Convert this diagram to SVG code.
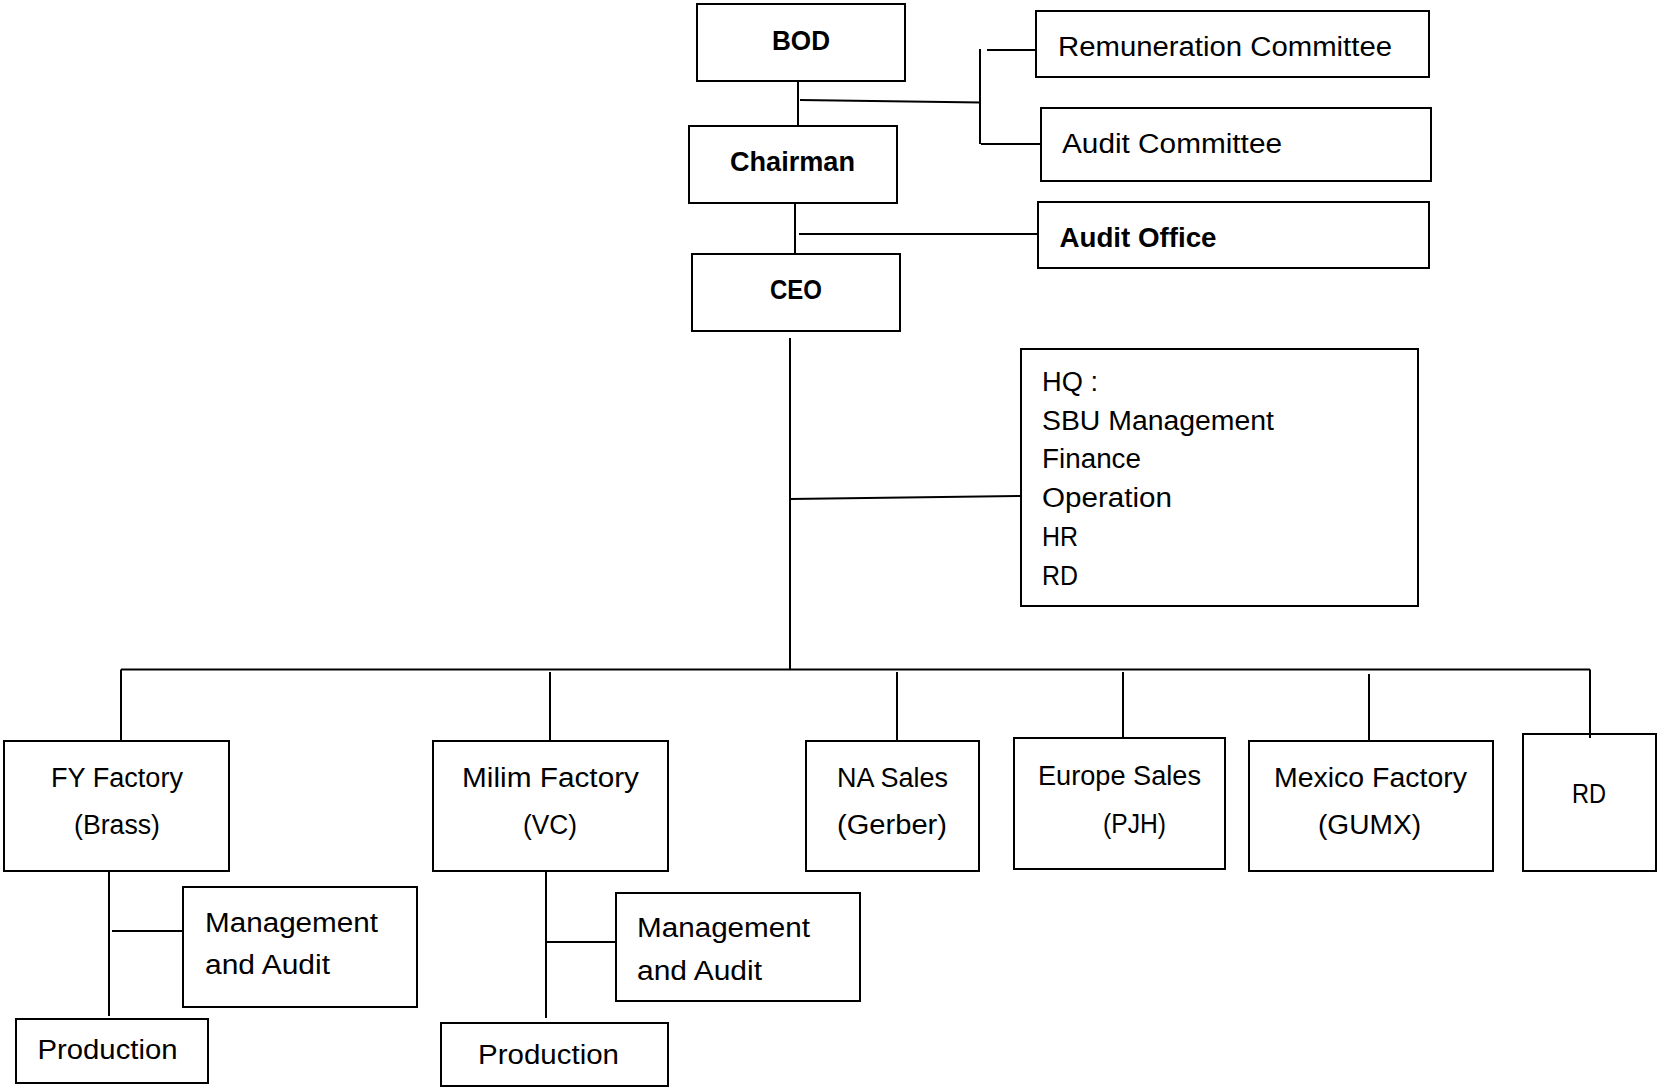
<svg xmlns="http://www.w3.org/2000/svg" width="1657" height="1087" viewBox="0 0 1657 1087">
<style>
.box{fill:#fff;stroke:#000;stroke-width:2}
.ln{fill:none;stroke:#000;stroke-width:2}
text{font-family:"Liberation Sans",Arial,sans-serif;font-size:27px;fill:#000}
.b{font-weight:bold}
</style>
<rect x="0" y="0" width="1657" height="1087" fill="#fff"/>
<g id="connectors">
<path class="ln" d="M798 81V126"/>
<path class="ln" d="M800 100L981 102.5"/>
<path class="ln" d="M980 49V144"/>
<path class="ln" d="M987 50H1036"/>
<path class="ln" d="M981 144H1041"/>
<path class="ln" d="M795 203V254"/>
<path class="ln" d="M799 234H1038"/>
<path class="ln" d="M790 338V670"/>
<path class="ln" d="M790 499L1021 496"/>
<path class="ln" d="M121 669.5H1590"/>
<path class="ln" d="M121 669.5V741"/>
<path class="ln" d="M550 672V741"/>
<path class="ln" d="M897 672V741"/>
<path class="ln" d="M1123 672V738"/>
<path class="ln" d="M1369 674V741"/>
<path class="ln" d="M1590 669.5V738"/>
<path class="ln" d="M109 871V1016"/>
<path class="ln" d="M112 931H183"/>
<path class="ln" d="M546 871V1018"/>
<path class="ln" d="M546 942H618"/>
</g>
<g id="bod"><rect class="box" x="697" y="4" width="208" height="77"/><text class="b" x="772" y="50" textLength="58" lengthAdjust="spacingAndGlyphs">BOD</text></g>
<g id="chairman"><rect class="box" x="689" y="126" width="208" height="77"/><text class="b" x="730" y="171" textLength="125" lengthAdjust="spacingAndGlyphs">Chairman</text></g>
<g id="ceo"><rect class="box" x="692" y="254" width="208" height="77"/><text class="b" x="770" y="299" textLength="52" lengthAdjust="spacingAndGlyphs">CEO</text></g>
<g id="remuneration"><rect class="box" x="1036" y="11" width="393" height="66"/><text x="1058" y="56" textLength="334" lengthAdjust="spacingAndGlyphs">Remuneration Committee</text></g>
<g id="audit-committee"><rect class="box" x="1041" y="108" width="390" height="73"/><text x="1062" y="153" textLength="220" lengthAdjust="spacingAndGlyphs">Audit Committee</text></g>
<g id="audit-office"><rect class="box" x="1038" y="202" width="391" height="66"/><text class="b" x="1059.5" y="247" textLength="157" lengthAdjust="spacingAndGlyphs">Audit Office</text></g>
<g id="hq"><rect class="box" x="1021" y="349" width="397" height="257"/>
<text x="1042" y="391" textLength="56" lengthAdjust="spacingAndGlyphs">HQ :</text>
<text x="1042" y="430" textLength="232" lengthAdjust="spacingAndGlyphs">SBU Management</text>
<text x="1042" y="468" textLength="99" lengthAdjust="spacingAndGlyphs">Finance</text>
<text x="1042" y="507" textLength="130" lengthAdjust="spacingAndGlyphs">Operation</text>
<text x="1042" y="546" textLength="36" lengthAdjust="spacingAndGlyphs">HR</text>
<text x="1042" y="585" textLength="36" lengthAdjust="spacingAndGlyphs">RD</text>
</g>
<g id="fy-factory"><rect class="box" x="4" y="741" width="225" height="130"/><text x="51" y="787" textLength="132" lengthAdjust="spacingAndGlyphs">FY Factory</text><text x="74" y="834" textLength="86" lengthAdjust="spacingAndGlyphs">(Brass)</text></g>
<g id="milim-factory"><rect class="box" x="433" y="741" width="235" height="130"/><text x="462" y="787" textLength="177" lengthAdjust="spacingAndGlyphs">Milim Factory</text><text x="523" y="834" textLength="54" lengthAdjust="spacingAndGlyphs">(VC)</text></g>
<g id="na-sales"><rect class="box" x="806" y="741" width="173" height="130"/><text x="837" y="787" textLength="111" lengthAdjust="spacingAndGlyphs">NA Sales</text><text x="837" y="834" textLength="110" lengthAdjust="spacingAndGlyphs">(Gerber)</text></g>
<g id="europe-sales"><rect class="box" x="1014" y="738" width="211" height="131"/><text x="1038" y="785" textLength="163" lengthAdjust="spacingAndGlyphs">Europe Sales</text><text x="1103" y="833" textLength="63" lengthAdjust="spacingAndGlyphs">(PJH)</text></g>
<g id="mexico-factory"><rect class="box" x="1249" y="741" width="244" height="130"/><text x="1274" y="787" textLength="193" lengthAdjust="spacingAndGlyphs">Mexico Factory</text><text x="1318" y="834" textLength="103" lengthAdjust="spacingAndGlyphs">(GUMX)</text></g>
<g id="rd"><rect class="box" x="1523" y="734" width="133" height="137"/><text x="1572" y="803" textLength="34" lengthAdjust="spacingAndGlyphs">RD</text></g>
<path class="ln" d="M1590 734V738"/>
<g id="fy-mgmt"><rect class="box" x="183" y="887" width="234" height="120"/><text x="205" y="932" textLength="173" lengthAdjust="spacingAndGlyphs">Management</text><text x="205" y="974" textLength="125" lengthAdjust="spacingAndGlyphs">and Audit</text></g>
<g id="fy-production"><rect class="box" x="16" y="1019" width="192" height="64"/><text x="37.5" y="1059" textLength="140" lengthAdjust="spacingAndGlyphs">Production</text></g>
<g id="milim-mgmt"><rect class="box" x="616" y="893" width="244" height="108"/><text x="637" y="937" textLength="173" lengthAdjust="spacingAndGlyphs">Management</text><text x="637" y="980" textLength="125" lengthAdjust="spacingAndGlyphs">and Audit</text></g>
<g id="milim-production"><rect class="box" x="441" y="1023" width="227" height="63"/><text x="478" y="1064" textLength="141" lengthAdjust="spacingAndGlyphs">Production</text></g>
</svg>
